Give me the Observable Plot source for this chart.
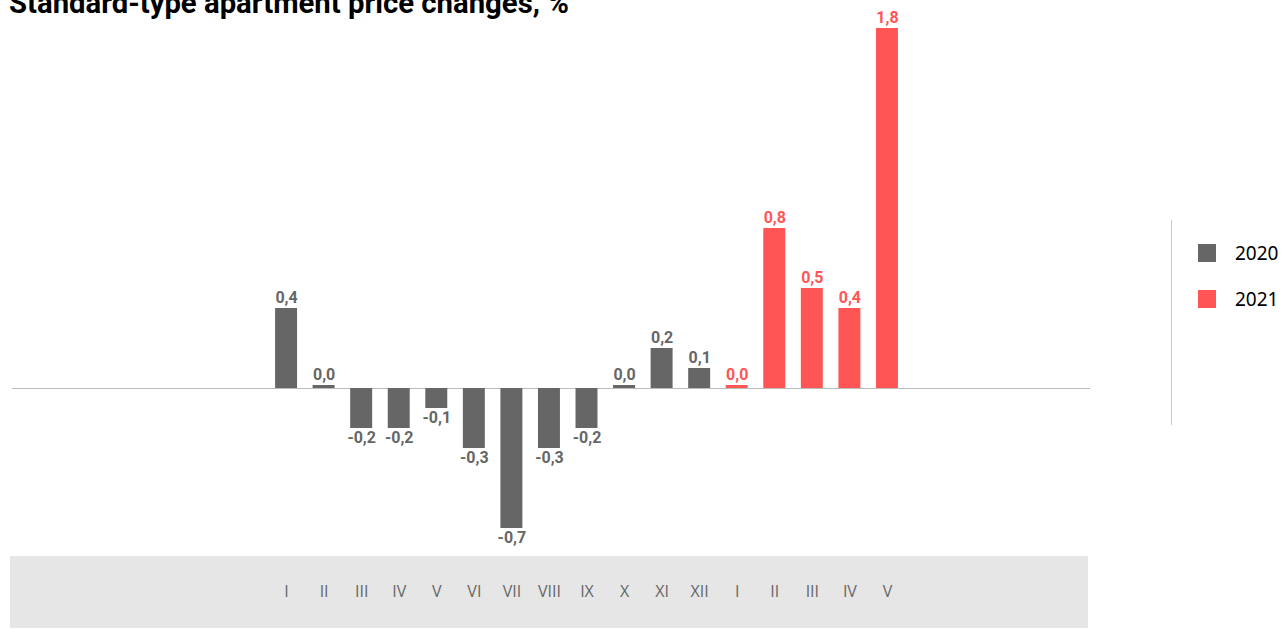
<!DOCTYPE html>
<html>
<head>
<meta charset="utf-8">
<script src="https://cdn.jsdelivr.net/npm/d3@7"></script>
<script src="https://cdn.jsdelivr.net/npm/@observablehq/plot@0.6"></script>
<style>
  html, body { margin: 0; padding: 0; background: #fff; overflow: hidden; }
  body { width: 1283px; height: 629px; position: relative; font-family: "Noto Sans", sans-serif; }
  #title { position: absolute; left: 9px; top: -14px; font-family: Roboto, sans-serif; font-weight: 700; font-size: 29.3px; color: #000; white-space: nowrap; line-height: 34px; }
  #axisband { position: absolute; left: 10px; top: 556px; width: 1078px; height: 72px; background: #e6e6e6; }
  #chart { position: absolute; left: 0; top: 0; }
  #chart svg { font-family: "Open Sans", sans-serif !important; }
  #legend { position: absolute; left: 1171px; top: 220px; height: 205px; border-left: 1px solid #c8c8c8; width: 112px; }
  .item { position: absolute; left: 26px; display: flex; align-items: center; font-size: 19px; color: #000; line-height: 18px; }
  .sw { width: 18px; height: 18px; margin-right: 19px; }
</style>
</head>
<body>
<div id="title">Standard-type apartment price changes, %</div>
<div id="axisband"></div>
<div id="chart"></div>
<div id="legend">
  <div class="item" style="top:24px"><div class="sw" style="background:#666666"></div>2020</div>
  <div class="item" style="top:70px"><div class="sw" style="background:#ff5555"></div>2021</div>
</div>
<script>
const months2020 = ["I","II","III","IV","V","VI","VII","VIII","IX","X","XI","XII"];
const values2020 = [0.4, 0.015, -0.2, -0.2, -0.1, -0.3, -0.7, -0.3, -0.2, 0.015, 0.2, 0.1];
const months2021 = ["I","II","III","IV","V"];
const values2021 = [0.015, 0.8, 0.5, 0.4, 1.8];
const years = ["2020", "2021"];
const colors = ["#666666", "#ff5555"];

const data = [
  ...months2020.map((m, i) => ({key: "2020-" + m, month: m, year: "2020", value: values2020[i]})),
  ...months2021.map((m, i) => ({key: "2021-" + m, month: m, year: "2021", value: values2021[i]}))
];
const fmt = v => v.toFixed(1).replace(".", ",");
const labelFont = "Roboto, sans-serif";

const chart = Plot.plot({
  width: 1100,
  height: 629,
  marginLeft: 12,
  marginRight: 10,
  marginTop: 28,
  marginBottom: 73,
  style: {background: "transparent", overflow: "visible"},
  x: {type: "band", domain: data.map(d => d.key), paddingInner: 0.415, paddingOuter: 6.06, align: 0.578, round: false, label: null},
  y: {domain: [-0.84, 1.8], axis: null},
  color: {domain: years, range: colors},
  marks: [
    Plot.ruleY([0], {stroke: "#bbbbbb", strokeWidth: 1}),
    Plot.barY(data, {x: "key", y: "value", fill: "year"}),
    Plot.text(data.filter(d => d.value >= 0), {x: "key", y: "value", text: d => fmt(d.value), fill: "year", dy: -6, lineAnchor: "bottom", fontSize: 16, fontWeight: 700, fontFamily: labelFont}),
    Plot.text(data.filter(d => d.value < 0), {x: "key", y: "value", text: d => fmt(d.value), fill: "year", dy: 3, lineAnchor: "top", fontSize: 16, fontWeight: 700, fontFamily: labelFont}),
    Plot.axisX({tickSize: 0, tickPadding: 29, tickFormat: k => data.find(d => d.key === k).month, fontSize: 16, fill: "#666666", label: null})
  ]
});
document.getElementById("chart").appendChild(chart);
</script>
</body>
</html>
